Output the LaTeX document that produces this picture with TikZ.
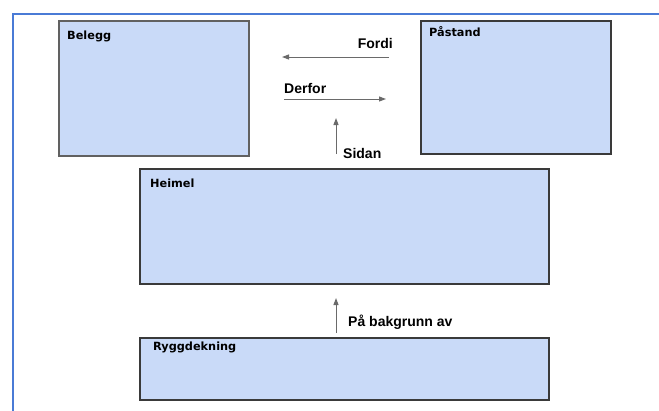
\documentclass[tikz,border=0pt]{standalone}
\usepackage{fontspec}
\setmainfont{Liberation Sans}
\newfontfamily\boxfont{DejaVu Sans}
\usetikzlibrary{arrows.meta,positioning}
\definecolor{boxfill}{HTML}{C9DAF8}
\definecolor{boxline}{HTML}{3A3A3A}
\definecolor{frameblue}{HTML}{4A7BD6}
\definecolor{arrowgray}{HTML}{6A6A6A}
\tikzset{
  argbox/.style={draw=boxline, fill=boxfill, line width=1.4pt, inner sep=0pt},
  boxtitle/.style={anchor=base west, inner sep=0pt, font=\boxfont\fontsize{11.3}{13}\selectfont\bfseries},
  steplabel/.style={inner sep=0pt, font=\fontsize{14}{16}\selectfont\bfseries},
  arrow/.style={-{Triangle[length=7pt, width=5pt]}, draw=arrowgray, line width=1pt}
}

\begin{document}
\begin{tikzpicture}[x=1pt, y=-1pt]
  \useasboundingbox (0,0) rectangle (659,410);
  % frame along top and left
  \draw[frameblue, line width=2.6pt] (13,412) -- (13,14) -- (661,14);

  % boxes
  \node[argbox, draw=boxline!80, minimum width=190pt, minimum height=135pt] (belegg) at (154,88.5) {};
  \node[argbox, minimum width=190pt, minimum height=133pt] (paastand) at (516,87.5) {};
  \node[argbox, minimum width=409pt, minimum height=115pt] (heimel) at (344.5,226.5) {};
  \node[argbox, minimum width=409pt, minimum height=62pt] (rygg) at (344.5,369) {};

  \node[boxtitle] (beleggT) at (67,39.3) {Belegg};
  \node[boxtitle] (paastandT) at (429,36) {Påstand};
  \node[boxtitle] (heimelT) at (150,187.3) {Heimel};
  \node[boxtitle] (ryggT) at (153,350.7) {Ryggdekning};

  % arrow ends
  \coordinate (fordiA) at (389,57);
  \coordinate (fordiB) at (282,57);
  \coordinate (derforA) at (284,99);
  \coordinate (derforB) at (386,99);
  \coordinate (sidanA) at (336,154);
  \coordinate (sidanB) at (336,118);
  \coordinate (bakA) at (336,333);
  \coordinate (bakB) at (336,298);

  \draw[arrow] (fordiA) -- (fordiB);
  \draw[arrow] (derforA) -- (derforB);
  \draw[arrow] (sidanA) -- (sidanB);
  \draw[arrow] (bakA) -- (bakB);

  \node[steplabel, anchor=base east] (fordi) at (393,48) {Fordi};
  \node[steplabel, anchor=base west] (derfor) at (284,93) {Derfor};
  \node[steplabel, anchor=base west] (sidan) at (343,158) {Sidan};
  \node[steplabel, anchor=base west] (bak) at (348,326) {På bakgrunn av};
\end{tikzpicture}
\end{document}
